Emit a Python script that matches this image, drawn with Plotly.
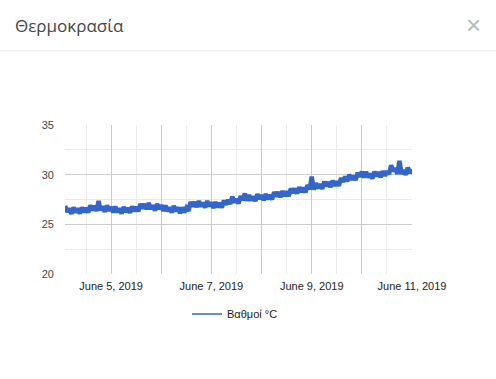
import plotly.graph_objects as go
import pandas as pd

# Hourly readings from 2019-06-04 02:00 to 2019-06-11 00:00
start_time = "2019-06-04 02:00"
temps = [
    26.85, 26.25, 26.60, 26.05, 26.70, 26.20, 26.60, 26.08, 26.70, 26.20,
    26.65, 26.18, 26.90, 26.43, 26.85, 26.35, 27.35, 26.43, 26.80, 26.25,
    26.90, 26.38, 26.75, 26.20, 26.80, 26.23, 26.60, 26.08, 26.75, 26.25,
    26.65, 26.15, 26.80, 26.30, 26.75, 26.30, 27.05, 26.60, 27.05, 26.53,
    27.15, 26.55, 26.90, 26.38, 27.05, 26.55, 26.95, 26.35, 26.90, 26.33,
    26.70, 26.18, 26.85, 26.33, 26.70, 26.13, 26.70, 26.20, 26.65, 26.35,
    27.25, 26.80, 27.25, 26.73, 27.35, 26.80, 27.20, 26.68, 27.35, 26.83,
    27.20, 26.65, 27.25, 26.73, 27.15, 26.68, 27.40, 26.98, 27.45, 27.05,
    27.80, 27.20, 27.55, 27.10, 27.85, 27.45, 28.10, 27.38, 27.95, 27.40,
    27.80, 27.33, 28.05, 27.55, 27.95, 27.43, 28.05, 27.53, 27.95, 27.50,
    28.25, 27.80, 28.25, 27.73, 28.35, 27.85, 28.30, 27.85, 28.60, 28.15,
    28.60, 28.10, 28.75, 28.25, 28.70, 28.23, 28.95, 28.53, 29.80, 28.50,
    29.15, 28.63, 29.05, 28.58, 29.30, 28.83, 29.25, 28.75, 29.40, 28.88,
    29.30, 28.88, 29.65, 29.28, 29.80, 29.33, 30.00, 29.48, 29.90, 29.45,
    30.20, 29.80, 30.30, 29.73, 30.30, 29.73, 30.10, 29.60, 30.30, 29.83,
    30.25, 29.73, 30.35, 29.88, 30.35, 30.05, 30.95, 30.35, 30.65, 30.08,
    31.40, 30.08, 30.45, 29.98, 30.70, 30.18, 30.55,
]
times = pd.date_range(start_time, periods=len(temps), freq="1h")

series_name = "Βαθμοί °C"
title_text = "Θερμοκρασία"
day_ticks = ["2019-06-05", "2019-06-06", "2019-06-07", "2019-06-08",
             "2019-06-09", "2019-06-10", "2019-06-11"]
day_labels = ["June 5, 2019", "", "June 7, 2019", "", "June 9, 2019", "", "June 11, 2019"]
y_ticks = [20, 25, 30, 35]

W, H = 496, 379
L, R, T, B = 65, 412, 125, 274
BLUE = "#3366cc"

fig = go.Figure()
fig.add_trace(go.Scatter(
    x=times, y=temps, mode="lines", name=series_name, showlegend=False,
    line=dict(color=BLUE, width=4.5, simplify=False),
))
# legend entry with a thin line sample
fig.add_trace(go.Scatter(
    x=[None], y=[None], mode="lines", name=series_name, showlegend=True,
    line=dict(color=BLUE, width=1.5),
))

fig.update_layout(
    width=W, height=H,
    margin=dict(l=L, r=W - R, t=T, b=H - B, pad=0),
    paper_bgcolor="white", plot_bgcolor="white",
    font=dict(family="Arial, Liberation Sans, sans-serif", size=11, color="#222"),
    showlegend=True,
    legend=dict(orientation="h", x=(187 - L) / (R - L), xanchor="left",
                y=-(314 - B) / (B - T), yanchor="middle",
                font=dict(size=11, color="#222"), bgcolor="rgba(0,0,0,0)",
                itemwidth=30),
    xaxis=dict(
        type="date",
        range=["2019-06-04 01:55", "2019-06-11 00:00"],
        tickvals=day_ticks, ticktext=day_labels,
        showgrid=True, gridcolor="#cccccc", gridwidth=1,
        minor=dict(dtick=43200000, tick0="2019-06-04 12:00", showgrid=True,
                   gridcolor="#ebebeb", gridwidth=1),
        zeroline=False, showline=False, ticks="",
        tickfont=dict(size=11, color="#222"),
        ticklabelstandoff=4,
    ),
    yaxis=dict(
        range=[20, 35], tickvals=y_ticks,
        showgrid=True, gridcolor="#cccccc", gridwidth=1,
        minor=dict(dtick=2.5, tick0=20, showgrid=True, gridcolor="#ebebeb", gridwidth=1),
        zeroline=False, showline=False, ticks="",
        tickfont=dict(size=11, color="#444"),
        ticklabelstandoff=10,
    ),
    shapes=[
        dict(type="line", xref="paper", yref="paper",
             x0=-L / (R - L), x1=(W - L) / (R - L),
             y0=(B - 51) / (B - T), y1=(B - 51) / (B - T),
             line=dict(color="#e5e5e5", width=1)),
    ],
    annotations=[
        dict(text=title_text, xref="paper", yref="paper",
             x=(13 - L) / (R - L), y=(B - 25) / (B - T), xanchor="left", yanchor="middle",
             showarrow=False, font=dict(family="Open Sans, sans-serif", size=17, color="#444")),
        dict(text="×", xref="paper", yref="paper",
             x=(473 - L) / (R - L), y=(B - 25) / (B - T), xanchor="center", yanchor="middle",
             showarrow=False, font=dict(family="Arial, sans-serif", size=26, color="#bbbbbb")),
    ],
)

fig.write_html("out.html", config={"displayModeBar": False},
               post_script="document.body.style.margin='0';")
